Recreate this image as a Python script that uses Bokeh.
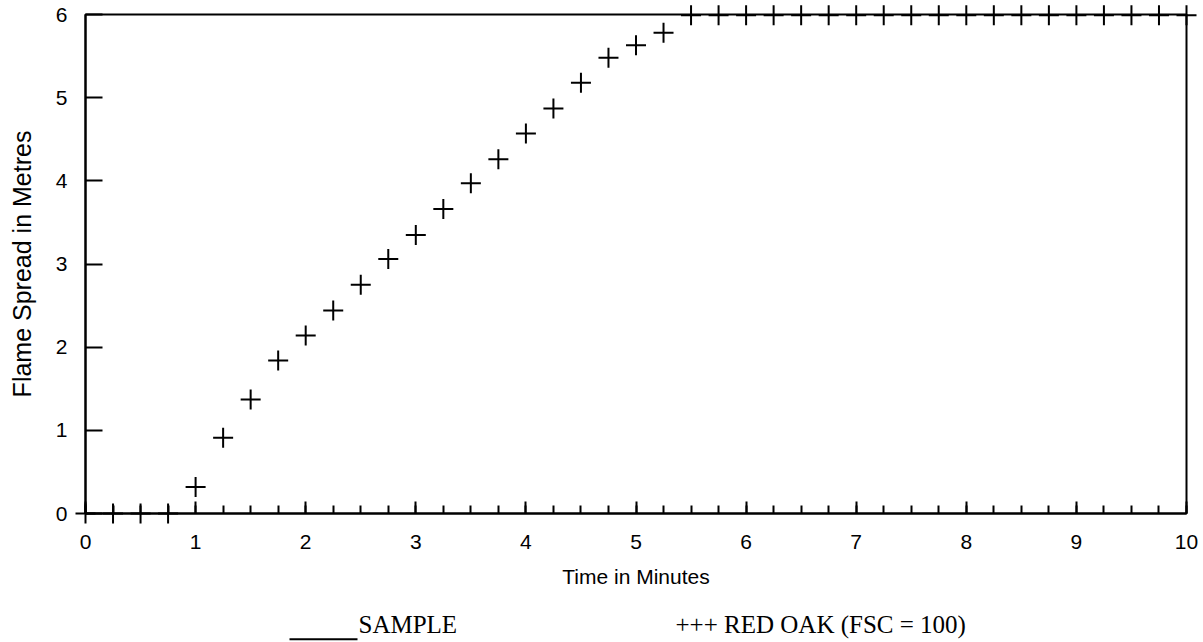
from bokeh.plotting import figure
from bokeh.models import Range1d, SingleIntervalTicker
from bokeh.core.properties import value
from bokeh.embed import file_html
from bokeh.resources import INLINE

# ---- data ----
time_min = [0.0, 0.25, 0.5, 0.75, 1.0, 1.25, 1.5, 1.75, 2.0, 2.25, 2.5, 2.75,
            3.0, 3.25, 3.5, 3.75, 4.0, 4.25, 4.5, 4.75, 5.0, 5.25, 5.5, 5.75,
            6.0, 6.25, 6.5, 6.75, 7.0, 7.25, 7.5, 7.75, 8.0, 8.25, 8.5, 8.75,
            9.0, 9.25, 9.5, 9.75, 10.0]
red_oak_spread = [0.0, 0.0, 0.0, 0.0, 0.32, 0.91, 1.37, 1.84, 2.14, 2.44, 2.75, 3.06,
                  3.35, 3.66, 3.97, 4.26, 4.57, 4.87, 5.18, 5.48, 5.63, 5.78, 5.99, 5.99,
                  5.99, 5.99, 5.99, 5.99, 5.99, 5.99, 5.99, 5.99, 5.99, 5.99, 5.99, 5.99,
                  5.99, 5.99, 5.99, 5.99, 5.99]
x_title = "Time in Minutes"
y_title = "Flame Spread in Metres"
legend_sample = "SAMPLE"
legend_red_oak = "+++ RED OAK (FSC = 100)"

W, H = 1203, 642
p = figure(width=W, height=H, output_backend="svg", toolbar_location=None,
           x_range=Range1d(0, 10), y_range=Range1d(0, 6),
           min_border_left=85, min_border_right=17, min_border_top=14, min_border_bottom=129)
p.background_fill_color = "white"
p.border_fill_color = "white"
p.outline_line_color = "black"
p.outline_line_width = 2
p.outline_line_alpha = 1
p.grid.visible = False

for ax in (p.xaxis[0], p.yaxis[0]):
    ax.axis_line_color = "black"
    ax.axis_line_width = 2
    ax.major_tick_line_color = "black"
    ax.major_tick_line_width = 2
    ax.minor_tick_line_color = "black"
    ax.minor_tick_line_width = 2
    ax.major_tick_out = 0
    ax.minor_tick_out = 0
    ax.major_label_text_font = "Liberation Sans"
    ax.major_label_text_font_size = "21px"
    ax.major_label_text_color = "black"
    ax.axis_label_text_font = "Liberation Sans"
    ax.axis_label_text_font_style = "normal"
    ax.axis_label_text_color = "black"

xa = p.xaxis[0]
xa.ticker = SingleIntervalTicker(interval=1, num_minor_ticks=4)
xa.major_tick_in = 12
xa.minor_tick_in = 8
xa.major_label_standoff = 21
xa.axis_label = x_title
xa.axis_label_text_font_size = "21px"
xa.axis_label_standoff = 13

ya = p.yaxis[0]
ya.ticker = SingleIntervalTicker(interval=1, num_minor_ticks=0)
ya.major_tick_in = 17
ya.minor_tick_in = 0
ya.major_label_standoff = 18
ya.axis_label = y_title
ya.axis_label_text_font_size = "25px"
ya.axis_label_standoff = 17

p.scatter(time_min, red_oak_spread, marker="cross", size=20,
          line_color="black", line_width=2, level="overlay")

# legend-like texts under the chart (pixel -> data conversion)
def dx(px):
    return (px - 85) / 110.1

def dy(py):
    return (512.5 - py) / 83.08

p.text(x=[dx(358), dx(675)], y=[dy(623), dy(623)], text=[legend_sample, legend_red_oak],
       text_font=value("Liberation Serif"), text_font_size="25px", text_color="black",
       text_baseline="middle", text_align="left", level="overlay")
p.segment(x0=[dx(289)], y0=[dy(638)], x1=[dx(357)], y1=[dy(638)],
          line_color="black", line_width=2, level="overlay")

open("out.html", "w").write(file_html(p, INLINE))
